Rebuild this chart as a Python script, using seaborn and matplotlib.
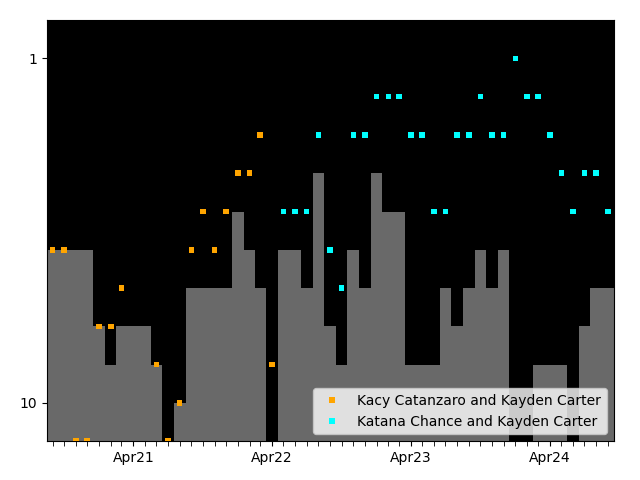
import matplotlib.pyplot as plt
import matplotlib.dates as mdates
import numpy as np
import pandas as pd
import seaborn as sns

months = pd.date_range('2020-09-01', '2024-09-01', freq='MS')

# gray step bars, one per month (nan = no bar)
bar_values = [6, 6, 6, 6, 8, 9, 8, 8, 8, 9, np.nan, 10,
              7, 7, 7, 7, 5, 6, 7, np.nan, 6, 6, 7, 4,
              8, 9, 6, 7, 4, 5, 5, 9, 9, 9, 7, 8,
              7, 6, 7, 6, np.nan, np.nan, 9, 9, 9, np.nan, 8, 7,
              7]

kacy_months = pd.date_range('2020-09-01', '2022-04-01', freq='MS')
kacy_rank = [6, 6, 11, 11, 8, 8, 7, np.nan, np.nan, 9, 11, 10,
             6, 5, 6, 5, 4, 4, 3, 9]

katana_months = pd.date_range('2022-05-01', '2024-09-01', freq='MS')
katana_rank = [5, 5, 5, 3, 6, 7, 3, 3, 2, 2, 2, 3, 3, 5, 5, 3, 3, 2, 3, 3,
               1, 2, 2, 3, 4, 5, 4, 4, 5]

team1 = 'Kacy Catanzaro and Kayden Carter'
team2 = 'Katana Chance and Kayden Carter'

df = pd.concat([
    pd.DataFrame({'date': kacy_months, 'rank': kacy_rank, 'team': team1}),
    pd.DataFrame({'date': katana_months, 'rank': katana_rank, 'team': team2}),
]).dropna()

fig, ax = plt.subplots(figsize=(6.4, 4.8), dpi=100)
ax.set_facecolor('black')

# bar edges halfway between month starts
x = mdates.date2num(months)
edges = np.concatenate([[x[0] - 15], (x[:-1] + x[1:]) / 2, [x[-1] + 15]])
vals = np.array(bar_values, dtype=float)
ok = ~np.isnan(vals)
ax.bar(edges[:-1][ok], 11 - vals[ok], width=np.diff(edges)[ok], bottom=vals[ok],
       align='edge', color='dimgray', linewidth=0)

sns.scatterplot(data=df, x='date', y='rank', hue='team',
                palette={team1: 'orange', team2: 'cyan'},
                marker='s', s=16, linewidth=0, ax=ax, zorder=3)

ax.set_ylim(11, 0)
ax.set_yticks([1, 10])
ax.set_xlim(edges[0], edges[-1])
ax.xaxis.set_major_locator(mdates.MonthLocator(bymonth=4))
ax.xaxis.set_major_formatter(mdates.DateFormatter('%b%y'))
ax.xaxis.set_minor_locator(mdates.MonthLocator())
ax.tick_params(axis='x', which='minor', length=3.5)
ax.set_xlabel('')
ax.set_ylabel('')
ax.legend(loc='lower right')

plt.subplots_adjust(left=0.0734, right=0.959, top=0.958, bottom=0.081)
plt.savefig('out.png', dpi=100)
